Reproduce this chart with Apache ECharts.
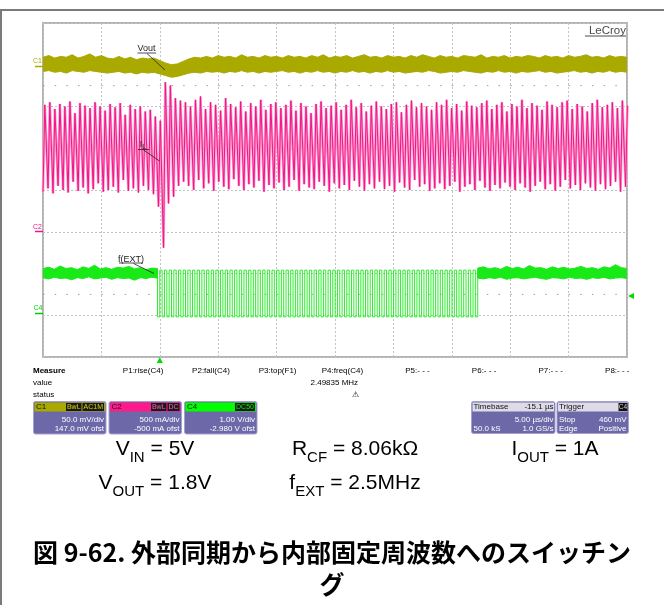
<!DOCTYPE html>
<html>
<head>
<meta charset="utf-8">
<script src="https://cdn.jsdelivr.net/npm/echarts@6/dist/echarts.min.js"></script>
<style>
  html, body { margin: 0; padding: 0; background: #ffffff; }
  #chart { width: 664px; height: 605px; }
</style>
</head>
<body>
<div id="chart"></div>
<script>
// ---------------- acquisition settings ----------------
const timeStartUs = -10;          // left edge of the screen, relative to the C4 trigger
const timeEndUs = 40;             // 10 div x 5.00 us/div
const timeDivUs = 5;
const c1RangeMv = [-350, 50];     // C1 Vout, 50 mV/div, AC coupled
const c2RangeA = [-1.5, 2.5];     // C2 IL, 500 mA/div
const c4RangeV = [-1, 7];         // C4 f(EXT), 1.00 V/div
const trigLevelV = 0.46;          // trigger level 460 mV, positive edge on C4

// ---------------- C1: Vout ripple envelope (mV), one sample every 0.5 us ----------------
const voutStepUs = 0.5;
const voutTopMv = [
  9, 11, 8, 10, 9, 12, 8, 10, 13, 9, 11, 8, 7, 10, 7, 9, 6, 8, 7, 8,
  5, 2, 0, 1, 4,
  7, 9, 8, 10, 8, 11, 9, 10, 8, 12, 9, 10, 8, 11, 9, 10, 8, 11, 9, 10,
  8, 11, 9, 12, 8, 10, 9, 11, 8, 10, 12, 9, 10, 8, 11, 9, 10, 8, 11, 9,
  12, 10, 8, 11, 9, 10, 8, 11, 10, 9, 12, 8, 10, 9, 11, 8, 10, 9, 11, 10,
  8, 11, 9, 10, 8, 11, 9, 10, 12, 9, 10, 8, 11, 9, 10, 9
];
const voutBottomMv = [
  -8, -7, -9, -8, -10, -7, -8, -9, -7, -8, -9, -10, -9, -8, -10, -9, -11, -9, -10, -9,
  -11, -13, -15, -14, -12,
  -10, -9, -10, -8, -9, -8, -10, -8, -9, -7, -9, -8, -10, -8, -9, -8, -7, -9, -8, -10,
  -8, -9, -7, -9, -8, -10, -8, -9, -7, -9, -8, -10, -8, -9, -7, -9, -8, -10, -9, -8,
  -9, -7, -8, -10, -9, -8, -9, -7, -8, -9, -10, -8, -9, -7, -9, -8, -10, -8, -9, -8,
  -7, -9, -8, -10, -9, -8, -7, -9, -8, -10, -8, -9, -7, -9, -8, -9
];

// ---------------- C2: inductor current, valley and peak of each switching cycle (A) ----------------
const ilPeriodUs = 0.43;
const ilDuty = 1.8 / 5;           // VOUT / VIN
const ilValleyA = [
  0.48, 0.52, 0.46, 0.55, 0.50, 0.47, 0.60, 0.49, 0.53, 0.46, 0.51, 0.58, 0.48, 0.50, 0.54, 0.47, 0.62, 0.49, 0.52, 0.47, 0.55, 0.50, 0.45,
  0.30, -0.19, 0.34, 0.42, 0.55, 0.60,
  0.55, 0.50, 0.62, 0.52, 0.58, 0.49, 0.60, 0.54, 0.51, 0.63,
  0.55, 0.50, 0.57, 0.53, 0.61, 0.48, 0.56, 0.52, 0.59, 0.50,
  0.54, 0.62, 0.49, 0.57, 0.53, 0.51, 0.60, 0.55, 0.48, 0.58,
  0.52, 0.56, 0.50, 0.61, 0.54, 0.49, 0.57, 0.52, 0.60, 0.51,
  0.55, 0.48, 0.59, 0.53, 0.50, 0.62, 0.54, 0.57, 0.49, 0.52,
  0.58, 0.51, 0.55, 0.60, 0.48, 0.54, 0.57, 0.50, 0.61, 0.53,
  0.49, 0.56, 0.52, 0.59, 0.54, 0.50, 0.58, 0.53, 0.48, 0.55,
  0.60, 0.51, 0.57, 0.49, 0.54, 0.62, 0.52, 0.56, 0.50, 0.58,
  0.53, 0.49, 0.57, 0.51, 0.55, 0.60, 0.48, 0.54
];
const ilPeakA = [
  1.52, 1.55, 1.47, 1.53, 1.50, 1.56, 1.42, 1.54, 1.51, 1.48, 1.55, 1.50, 1.45, 1.53, 1.49, 1.54, 1.40, 1.52, 1.47, 1.50, 1.44, 1.46, 1.38,
  1.33, 1.79, 1.75, 1.60, 1.57, 1.55,
  1.50, 1.58, 1.62, 1.47, 1.55, 1.52, 1.45, 1.60, 1.53, 1.49,
  1.56, 1.44, 1.54, 1.50, 1.58, 1.46, 1.53, 1.55, 1.48, 1.52,
  1.57, 1.45, 1.54, 1.50, 1.42, 1.53, 1.56, 1.48, 1.51, 1.55,
  1.46, 1.52, 1.58, 1.49, 1.54, 1.44, 1.51, 1.56, 1.50, 1.47,
  1.53, 1.55, 1.43, 1.52, 1.57, 1.49, 1.54, 1.50, 1.46, 1.55,
  1.52, 1.58, 1.48, 1.53, 1.45, 1.56, 1.51, 1.49, 1.54, 1.57,
  1.47, 1.52, 1.55, 1.44, 1.53, 1.50, 1.58, 1.48, 1.54, 1.51,
  1.46, 1.56, 1.52, 1.49, 1.55, 1.57, 1.47, 1.53, 1.50, 1.44,
  1.54, 1.58, 1.49, 1.52, 1.55, 1.48, 1.57, 1.51
];

// ---------------- C4: external clock f(EXT) ----------------
const extFreqMHz = 2.49835;       // P4:freq(C4)
const extHighV = 1.08;
const extLowV = -0.04;
const extSyncEndUs = 27.22;       // clock removed here
// idle level before and after the clock burst (band top / bottom, V)
const extPreSpanUs = [-10, -0.2];
const extPreTopV = [1.12, 1.15, 1.10, 1.18, 1.12, 1.14, 1.09, 1.16, 1.12, 1.20, 1.11, 1.14, 1.10, 1.15, 1.13, 1.17, 1.11, 1.14, 1.09, 1.13, 1.12];
const extPreBottomV = [0.90, 0.87, 0.91, 0.88, 0.89, 0.85, 0.90, 0.88, 0.92, 0.87, 0.89, 0.91, 0.86, 0.90, 0.88, 0.89, 0.84, 0.90, 0.88, 0.91, 0.89];
const extPostSpanUs = [27.22, 40];
const extPostTopV = [1.13, 1.16, 1.11, 1.14, 1.10, 1.17, 1.12, 1.15, 1.11, 1.19, 1.13, 1.14, 1.10, 1.16, 1.12, 1.15, 1.11, 1.13, 1.17, 1.12, 1.14, 1.10, 1.16, 1.13, 1.21, 1.14, 1.12];
const extPostBottomV = [0.89, 0.87, 0.90, 0.88, 0.91, 0.86, 0.89, 0.90, 0.87, 0.89, 0.91, 0.88, 0.86, 0.90, 0.89, 0.87, 0.91, 0.88, 0.89, 0.86, 0.90, 0.88, 0.91, 0.87, 0.89, 0.90, 0.88];

// ---------------- readout text ----------------
const measureHeads = ['P1:rise(C4)', 'P2:fall(C4)', 'P3:top(F1)', 'P4:freq(C4)', 'P5:- - -', 'P6:- - -', 'P7:- - -', 'P8:- - -'];
const measureValues = ['', '', '', '2.49835 MHz', '', '', '', ''];
const channelCards = [
  { name: 'C1', tags: ['BwL', 'AC1M'], lines: ['50.0 mV/div', '147.0 mV ofst'] },
  { name: 'C2', tags: ['BwL', 'DC'], lines: ['500 mA/div', '-500 mA ofst'] },
  { name: 'C4', tags: ['DC50'], lines: ['1.00 V/div', '-2.980 V ofst'] }
];
const conditionsRow1 = [['V', 'IN', ' = 5V'], ['R', 'CF', ' = 8.06kΩ'], ['I', 'OUT', ' = 1A']];
const conditionsRow2 = [['V', 'OUT', ' = 1.8V'], ['f', 'EXT', ' = 2.5MHz']];
const titleLines = ['図 9-62. 外部同期から内部固定周波数へのスイッチン', 'グ'];

// ---------------- colours ----------------
const COL_C1 = '#a9a900';
const COL_C2 = '#f0168a';
const COL_C2_SOFT = '#ff9dcc';
const COL_C4 = '#18ea18';
const COL_CARD = '#6d68a8';
const FONT = '"Liberation Sans", Arial, sans-serif';

// ---------------- build traces ----------------
function ilPoints() {
  const pts = [];
  const n = Math.min(ilValleyA.length, ilPeakA.length);
  for (let i = 0; i < n; i++) {
    const t = timeStartUs + i * ilPeriodUs;
    pts.push([t, ilValleyA[i]]);
    pts.push([t + ilDuty * ilPeriodUs, ilPeakA[i]]);
  }
  if (n < ilValleyA.length) pts.push([timeStartUs + n * ilPeriodUs, ilValleyA[n]]);
  return pts;
}

function extClockPoints() {
  const period = 1 / extFreqMHz;
  const pts = [[extPreSpanUs[1], extHighV]];
  for (let k = 0; k * period <= extSyncEndUs + 1e-6; k++) {
    const rise = k * period;
    const fall = rise - period / 2;
    pts.push([fall, extHighV], [fall, extLowV], [rise, extLowV], [rise, extHighV]);
  }
  pts.push([extPostSpanUs[0], extHighV]);
  return pts;
}

function bandSeries(yAxisIndex, t0, t1, top, bottom, color, z) {
  const n = Math.min(top.length, bottom.length);
  const dt = (t1 - t0) / (n - 1);
  return {
    type: 'custom', xAxisIndex: 0, yAxisIndex, clip: true, silent: true, z,
    data: [[t0, top[0]]],
    renderItem(params, api) {
      const pts = [];
      for (let i = 0; i < n; i++) pts.push(api.coord([t0 + i * dt, top[i]]));
      for (let i = n - 1; i >= 0; i--) pts.push(api.coord([t0 + i * dt, bottom[i]]));
      return { type: 'polygon', shape: { points: pts }, style: { fill: color, stroke: color, lineWidth: 1 } };
    }
  };
}

const voutEnd = timeStartUs + (Math.min(voutTopMv.length, voutBottomMv.length) - 1) * voutStepUs;

// ---------------- overlay graphics (readouts, labels) ----------------
function txt(x, y, text, opt = {}) {
  return {
    type: 'text', x, y, z: 100, silent: true,
    style: {
      text, fill: opt.fill || '#000',
      font: opt.font || ('8px ' + FONT),
      align: opt.align || 'left', textAlign: opt.align || 'left',
      verticalAlign: 'middle', textVerticalAlign: 'middle'
    }
  };
}
function seg(x1, y1, x2, y2, stroke, w = 1) {
  return { type: 'line', z: 100, silent: true, shape: { x1, y1, x2, y2 }, style: { stroke, lineWidth: w } };
}
function box(x, y, width, height, fill, stroke, r = 0) {
  return { type: 'rect', z: 99, silent: true, shape: { x, y, width, height, r }, style: { fill, stroke: stroke || null, lineWidth: stroke ? 1 : 0 } };
}
function subText(x, y, parts, size, subSize, drop) {
  return {
    type: 'text', x, y, z: 100, silent: true,
    style: {
      text: `{m|${parts[0]}}{s|${parts[1]}}{m|${parts[2]}}`,
      fill: '#000', align: 'center', textAlign: 'center', verticalAlign: 'middle', textVerticalAlign: 'middle',
      rich: {
        m: { fontSize: size, fontFamily: FONT, lineHeight: Math.round(size * 1.25), verticalAlign: 'top', fill: '#000' },
        s: { fontSize: subSize, fontFamily: FONT, lineHeight: Math.round(subSize * 1.05), padding: [drop, 0, 0, 0], verticalAlign: 'bottom', fill: '#000' }
      }
    }
  };
}

const g = [];
// page frame
g.push(seg(0, 10, 664, 10, '#7a7a7a', 2));
g.push(seg(1, 10, 1, 605, '#7a7a7a', 2));
// brand mark
g.push(txt(626, 30.5, 'LeCroy', { align: 'right', fill: '#4a4a4a', font: '11.5px ' + FONT }));
g.push(seg(585, 36, 626, 36, '#4a4a4a', 1));
// channel ground markers
g.push(txt(37.5, 61.5, 'C1', { align: 'center', fill: COL_C1, font: '7px ' + FONT }));
g.push(seg(35, 66.5, 43, 66.5, COL_C1, 1.5));
g.push(txt(37.5, 227, 'C2', { align: 'center', fill: COL_C2, font: '7px ' + FONT }));
g.push(seg(35, 231.5, 43, 231.5, COL_C2, 1.5));
g.push(txt(38, 308.5, 'C4', { align: 'center', fill: '#00cc00', font: '7px ' + FONT }));
g.push(seg(35, 313.5, 43, 313.5, '#00cc00', 1.5));
// trace names with leaders
g.push(txt(146.5, 48.5, 'Vout', { align: 'center', fill: '#222', font: '9px ' + FONT }));
g.push(seg(137.5, 53, 156, 53, '#222', 0.8));
g.push(seg(147, 53.5, 165, 70, '#222', 0.8));
g.push({
  type: 'text', x: 143, y: 145.5, z: 100, silent: true,
  style: {
    text: '{m|I}{s|L}', fill: '#222', align: 'center', textAlign: 'center', verticalAlign: 'middle', textVerticalAlign: 'middle',
    rich: { m: { fontSize: 9, fontFamily: FONT, lineHeight: 10, verticalAlign: 'top' }, s: { fontSize: 7, fontFamily: FONT, lineHeight: 7, padding: [4, 0, 0, 0], verticalAlign: 'bottom' } }
  }
});
g.push(seg(138, 149.5, 149, 149.5, '#222', 0.8));
g.push(seg(143.5, 150, 159.5, 161, '#222', 0.8));
g.push(txt(131, 259.5, 'f(EXT)', { align: 'center', fill: '#222', font: '9px ' + FONT }));
g.push(seg(119, 263, 143, 263, '#222', 0.8));
g.push(seg(133.5, 263.5, 154, 273.5, '#222', 0.8));

// measurement table
g.push(txt(33, 371, 'Measure', { font: 'bold 8px ' + FONT }));
g.push(txt(33, 383, 'value'));
g.push(txt(33, 394.5, 'status'));
measureHeads.forEach((h, i) => {
  const right = 163.3 + i * 66.6;
  g.push(txt(right, 371, h, { align: 'right' }));
  if (measureValues[i]) g.push(txt(right - 5, 383, measureValues[i], { align: 'right' }));
});
g.push(txt(355.5, 394.5, '⚠', { align: 'center', font: '8px "DejaVu Sans"' }));

// channel cards
const cardColors = [COL_C1, '#ff1a8c', '#00ff00'];
const tagText = ['#d8d800', '#ff5fae', '#00ee00'];
const tagWidths = { BwL: 16, AC1M: 22, DC: 12.5, DC50: 20.5 };
channelCards.forEach((c, i) => {
  const x = 33.5 + i * 75.5;
  g.push(box(x, 401.5, 72.5, 32.5, COL_CARD, '#a5a1cf', 2));
  g.push(box(x + 1, 402.5, 70.5, 9, cardColors[i]));
  g.push(txt(x + 2.5, 407, c.name, { fill: '#111' }));
  let right = x + 71;
  for (let k = c.tags.length - 1; k >= 0; k--) {
    const w = tagWidths[c.tags[k]];
    g.push(box(right - w, 403, w - 0.5, 8, '#1a1a1a'));
    g.push(txt(right - w / 2 - 0.25, 407.2, c.tags[k], { align: 'center', fill: tagText[i], font: '7px ' + FONT }));
    right -= w + 0.5;
  }
  g.push(txt(x + 70.5, 419.5, c.lines[0], { align: 'right', fill: '#fff' }));
  g.push(txt(x + 70.5, 429, c.lines[1], { align: 'right', fill: '#fff' }));
});
// timebase card
g.push(box(471.5, 401.5, 83.5, 32, COL_CARD, '#a5a1cf', 2));
g.push(box(472.5, 402.5, 81.5, 9, '#dcdbe6'));
g.push(txt(473.5, 407, 'Timebase', { fill: '#111' }));
g.push(txt(553.5, 407, '-15.1 µs', { align: 'right', fill: '#111' }));
g.push(txt(553.5, 419.5, '5.00 µs/div', { align: 'right', fill: '#fff' }));
g.push(txt(473.5, 429, '50.0 kS', { fill: '#fff' }));
g.push(txt(553.5, 429, '1.0 GS/s', { align: 'right', fill: '#fff' }));
// trigger card
g.push(box(557, 401.5, 71.5, 32, COL_CARD, '#a5a1cf', 2));
g.push(box(558, 402.5, 69.5, 9, '#dcdbe6'));
g.push(txt(559, 407, 'Trigger', { fill: '#111' }));
g.push(box(618.5, 403, 9, 8, '#111'));
g.push(txt(623, 407.2, 'C4', { align: 'center', fill: '#cfcfcf', font: '6.5px ' + FONT }));
g.push(txt(559, 419.5, 'Stop', { fill: '#fff' }));
g.push(txt(626.5, 419.5, '460 mV', { align: 'right', fill: '#fff' }));
g.push(txt(559, 429, 'Edge', { fill: '#fff' }));
g.push(txt(626.5, 429, 'Positive', { align: 'right', fill: '#fff' }));

// test conditions
conditionsRow1.forEach((p, i) => g.push(subText(155 + i * 200, 452, p, 21, 15, 11)));
conditionsRow2.forEach((p, i) => g.push(subText(155 + i * 200, 486, p, 21, 15, 11)));
// caption
g.push(txt(332, 552, titleLines[0], { align: 'center', font: 'bold 25px "Noto Sans CJK JP", sans-serif' }));
g.push(txt(332, 584, titleLines[1], { align: 'center', font: 'bold 25px "Noto Sans CJK JP", sans-serif' }));

// ---------------- chart ----------------
const hiddenAxis = (min, max) => ({
  type: 'value', min, max, show: false, scale: false,
  axisLine: { show: false }, axisTick: { show: false }, axisLabel: { show: false }, splitLine: { show: false }
});
const gridLine = { show: true, lineStyle: { color: '#c2c2c2', type: [2, 2], width: 1 } };

const chart = echarts.init(document.getElementById('chart'), null, { renderer: 'canvas' });
chart.setOption({
  animation: false,
  backgroundColor: '#ffffff',
  grid: { left: 43, top: 23, width: 584, height: 334, show: true, borderColor: '#b4b4b4', borderWidth: 2, backgroundColor: '#ffffff' },
  xAxis: {
    type: 'value', min: timeStartUs, max: timeEndUs, interval: timeDivUs,
    axisLine: { show: false }, axisTick: { show: false }, axisLabel: { show: false }, splitLine: gridLine
  },
  yAxis: [
    { type: 'value', min: -4, max: 4, interval: 1, axisLine: { show: false }, axisTick: { show: false }, axisLabel: { show: false }, splitLine: gridLine },
    hiddenAxis(c1RangeMv[0], c1RangeMv[1]),
    hiddenAxis(c2RangeA[0], c2RangeA[1]),
    hiddenAxis(c4RangeV[0], c4RangeV[1])
  ],
  series: [
    // fine dotted level rows
    { type: 'line', yAxisIndex: 0, silent: true, symbol: 'none', z: 1, data: [[timeStartUs, 2.5], [timeEndUs, 2.5]], lineStyle: { color: '#9c9c9c', width: 1, type: [1.5, 10.18] } },
    { type: 'line', yAxisIndex: 0, silent: true, symbol: 'none', z: 1, data: [[timeStartUs, -2.5], [timeEndUs, -2.5]], lineStyle: { color: '#9c9c9c', width: 1, type: [1.5, 10.18] } },
    // C1 Vout
    bandSeries(1, timeStartUs, voutEnd, voutTopMv, voutBottomMv, COL_C1, 3),
    // C2 inductor current
    { type: 'line', yAxisIndex: 2, silent: true, symbol: 'none', clip: true, z: 4, data: ilPoints(), lineStyle: { color: COL_C2_SOFT, width: 2.6 } },
    { type: 'line', yAxisIndex: 2, silent: true, symbol: 'none', clip: true, z: 5, data: ilPoints(), lineStyle: { color: COL_C2, width: 1 } },
    // C4 external clock
    bandSeries(3, extPreSpanUs[0], extPreSpanUs[1], extPreTopV, extPreBottomV, COL_C4, 6),
    bandSeries(3, extPostSpanUs[0], extPostSpanUs[1], extPostTopV, extPostBottomV, COL_C4, 6),
    { type: 'line', yAxisIndex: 3, silent: true, symbol: 'none', clip: true, z: 7, data: extClockPoints(), lineStyle: { color: COL_C4, width: 0.9 } }
  ],
  graphic: g
});

// trigger position / level markers, placed through the axes
const trigPos = chart.convertToPixel({ xAxisIndex: 0, yAxisIndex: 3 }, [0, trigLevelV]);
const plotRight = chart.convertToPixel({ xAxisIndex: 0, yAxisIndex: 3 }, [timeEndUs, c4RangeV[0]]);
g.push({ type: 'polygon', z: 100, silent: true, shape: { points: [[trigPos[0] - 3, plotRight[1] + 6], [trigPos[0] + 3, plotRight[1] + 6], [trigPos[0], plotRight[1]]] }, style: { fill: '#00dd00' } });
g.push({ type: 'polygon', z: 100, silent: true, shape: { points: [[plotRight[0] + 1, trigPos[1]], [plotRight[0] + 7, trigPos[1] - 3], [plotRight[0] + 7, trigPos[1] + 3]] }, style: { fill: '#00dd00' } });
chart.setOption({ graphic: g });
</script>
</body>
</html>
